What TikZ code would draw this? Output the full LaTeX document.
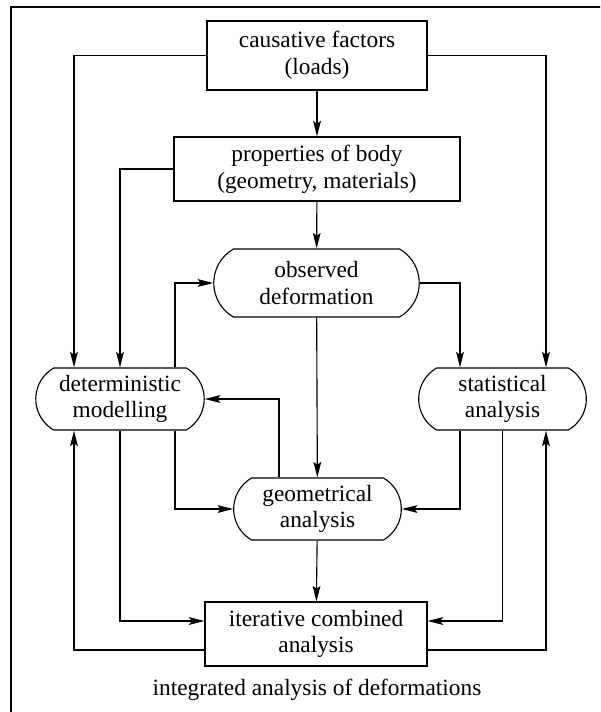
\documentclass[tikz,border=0pt]{standalone}
\usepackage{fontspec}
\setmainfont{Liberation Serif}
\usetikzlibrary{positioning, arrows.meta, shapes.misc, calc}

\tikzset{
  block/.style={draw, rectangle, align=center, inner sep=2pt},
  roundblock/.style={draw, rounded rectangle, rounded rectangle arc length=120,
    align=center, inner sep=2pt},
  link/.style={->, line width=0.8pt}
}

\begin{document}
\begin{tikzpicture}[x=0.025cm, y=-0.025cm, line width=0.8pt,
    >={Stealth[length=11pt, width=5.5pt, inset=2pt]},
    font=\fontsize{16.6}{19}\selectfont]

    % --- 画布与外框 ---
    \useasboundingbox (0,0) rectangle (600,712);
    \clip (0,0) rectangle (600,712);
    \draw (11,7) rectangle (606,720);

    % --- 节点 ---
    \node[block, minimum width=5.5cm, minimum height=1.725cm] (cause) at (317,55.5)
      {causative factors\\(loads)};
    \node[block, minimum width=7.15cm, minimum height=1.6cm] (props) at (317,169)
      {properties of body\\(geometry, materials)};
    \node[roundblock, minimum width=5.275cm, minimum height=1.7cm] (obs) at (316.5,283)
      {observed\\deformation};
    \node[roundblock, minimum width=4.35cm, minimum height=1.55cm] (determ) at (120,399)
      {deterministic\\modelling};
    \node[roundblock, minimum width=4.33cm, minimum height=1.55cm] (stat) at (502.5,399)
      {statistical\\analysis};
    \node[roundblock, minimum width=4.33cm, minimum height=1.55cm] (geom) at (317.5,509)
      {geometrical\\analysis};
    \node[block, minimum width=5.55cm, minimum height=1.6cm] (iter) at (316,634)
      {iterative combined\\analysis};
    \node (caption) at (317,690) {integrated analysis of deformations};

    % --- 竖向走线位置 ---
    \coordinate (laneA) at (74,0);   % 最左
    \coordinate (laneC) at (175,0);
    \coordinate (laneD) at (279,0);
    \coordinate (laneF) at (460,0);
    \coordinate (laneH) at (546,0);  % 最右
    \coordinate (iterUp) at (0,621);
    \coordinate (iterLo) at (0,650);

    % --- 主干 ---
    \draw[link] (cause) -- (props);
    \draw[link] (props) -- (obs);
    \draw[link] (obs) -- (geom);
    \draw[link] (geom) -- (iter);

    % --- 上部分支 ---
    \draw[link] (cause.west) -| (laneA |- determ.north);
    \draw[link] (cause.east) -| (laneH |- stat.north);
    \draw[link] (props.west) -| (determ.north);
    \draw[link] (laneC |- determ.north) |- (obs.west);
    \draw[link] (obs.east) -| (laneF |- stat.north);

    % --- 中部回路 ---
    \draw[link] (laneD |- geom.north) |- (determ.east);
    \draw[link] (laneC |- determ.south) |- (geom.west);
    \draw[link] (laneF |- stat.south) |- (geom.east);

    % --- 下部回路 ---
    \draw[link] (determ.south) |- (iter.west |- iterUp);
    \draw[link] (iter.west |- iterLo) -| (laneA |- determ.south);
    \draw[link] (stat.south) |- (iter.east |- iterUp);
    \draw[link] (iter.east |- iterLo) -| (laneH |- stat.south);

\end{tikzpicture}
\end{document}
